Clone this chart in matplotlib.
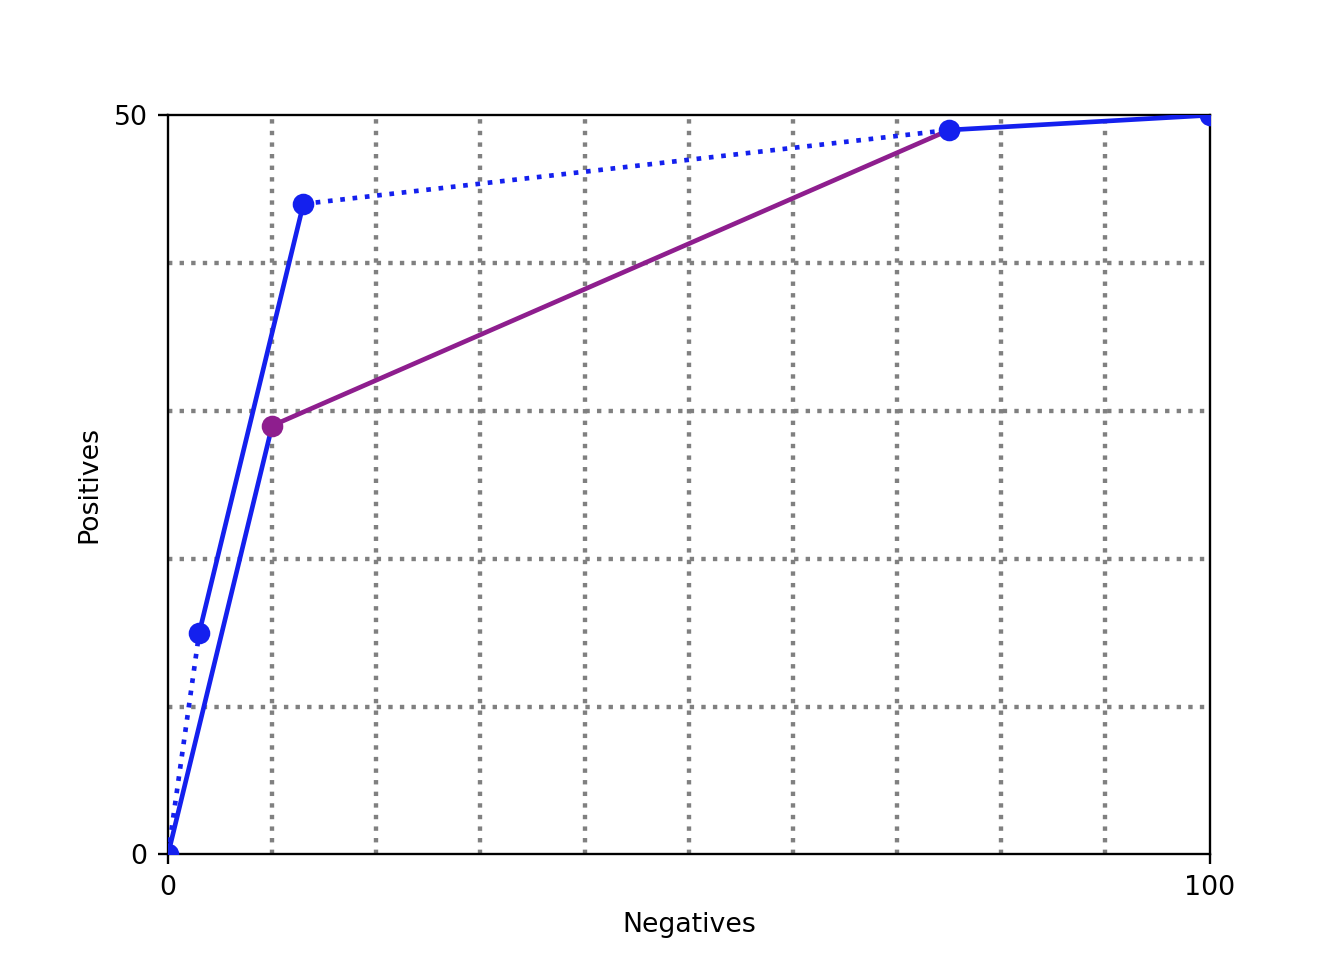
import matplotlib
matplotlib.use("Agg")
import matplotlib.pyplot as plt

# data
blue_neg = [0, 3, 13, 75, 100]
blue_pos = [0, 15, 44, 49, 50]
purple_neg = [10, 75]
purple_pos = [29, 49]
solid_blue_segments = [((0, 10), (0, 29)), ((3, 13), (15, 44)), ((75, 100), (49, 50))]
dotted_blue_segments = [((0, 3), (0, 15)), ((13, 75), (44, 49))]
purple_point_neg = [10]
purple_point_pos = [29]
x_grid = list(range(10, 101, 10))
y_grid = list(range(10, 51, 10))

BLUE = '#1420ee'
PURPLE = '#8e1e8e'

plt.rcParams['font.size'] = 9.2

fig, ax = plt.subplots(figsize=(6.4, 960 / 210), dpi=210)

ax.set_xlim(0, 100)
ax.set_ylim(0, 50)
ax.set_xticks([0, 100])
ax.set_yticks([0, 50])
ax.set_xticks(x_grid, minor=True)
ax.set_yticks(y_grid, minor=True)
ax.tick_params(which='minor', length=0)
ax.grid(which='minor', color='gray', linestyle=':', linewidth=1.5)
ax.set_axisbelow(True)

for xs, ys in solid_blue_segments:
    ax.plot(xs, ys, color=BLUE, lw=1.6, zorder=3)
for xs, ys in dotted_blue_segments:
    ax.plot(xs, ys, color=BLUE, lw=1.6, linestyle=':', zorder=3)
ax.plot(purple_neg, purple_pos, color=PURPLE, lw=1.6, zorder=2.5)
ax.plot(blue_neg, blue_pos, 'o', color=BLUE, markersize=6.4, zorder=4)
ax.plot(purple_point_neg, purple_point_pos, 'o', color=PURPLE, markersize=6.4, zorder=4)

ax.set_xlabel('Negatives')
ax.set_ylabel('Positives')

fig.savefig('out.png', dpi=210)
